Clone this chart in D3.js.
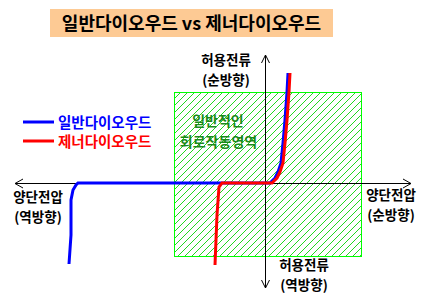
<!DOCTYPE html>
<html>
<head>
<meta charset="utf-8">
<script src="https://cdnjs.cloudflare.com/ajax/libs/d3/7.8.5/d3.min.js"></script>
<style>
  body { margin: 0; background: #fff; }
  svg { display: block; font-family: "Noto Sans CJK KR", "Noto Sans", sans-serif; }
</style>
</head>
<body>
<div class="chart"></div>
<script>
// voltage (x) / current (y) samples
var normalFwdV = [1.0, 1.4, 2.0, 2.6, 3.2, 3.6, 4.0, 4.4, 4.6];
var normalFwdI = [0, 0.4, 1.0, 2.2, 4.0, 8.0, 12.6, 18.2, 22.0];
var normalRevV = [-37.4, -37.8, -38.4, -38.8, -38.8, -39.2];
var normalRevI = [0, -0.4, -1.4, -3.4, -10.4, -16.2];

var zenerFwdV = [1.4, 1.8, 2.4, 3.0, 3.6, 4.0, 4.4, 4.8, 5.0];
var zenerFwdI = [0, 0.4, 1.0, 2.2, 4.0, 8.0, 12.6, 18.2, 22.0];
var zenerRevV = [-8.6, -9.2, -9.6, -10.0];
var zenerRevI = [0, -0.8, -6.4, -16.4];

var axisV = [-50, 29.2];
var axisI = [-21, 25.6];
var regionV = [-18.2, 19.2];
var regionI = [-14.6, 18.2];

var seriesNames = ["일반다이오우드", "제너다이오우드"];
var seriesColors = ["#0000ff", "#ff0000"];
var title = "일반다이오우드 vs 제너다이오우드";

var width = 428, height = 297;

var svg = d3.select("div.chart").append("svg")
    .attr("width", width)
    .attr("height", height);

var x = d3.scaleLinear().domain(axisV).range([15, 411]);
var y = d3.scaleLinear().domain(axisI).range([288, 55]);

// title box
svg.append("rect")
    .attr("x", 50).attr("y", 9)
    .attr("width", 283).attr("height", 28)
    .style("fill", "#fdca94");
svg.append("text")
    .attr("x", 191.5).attr("y", 29.5)
    .attr("text-anchor", "middle")
    .text(title)
    .style("font-size", "18px")
    .style("font-weight", "bold")
    .style("fill", "#000");

// hatched operating region
var defs = svg.append("defs");
defs.append("clipPath").attr("id", "regionClip")
  .append("rect")
    .attr("x", x(regionV[0])).attr("y", y(regionI[1]))
    .attr("width", x(regionV[1]) - x(regionV[0]))
    .attr("height", y(regionI[0]) - y(regionI[1]));

var rx0 = x(regionV[0]), rx1 = x(regionV[1]);
var ry0 = y(regionI[1]), ry1 = y(regionI[0]);
var hatch = d3.range(rx0 - (ry1 - ry0), rx1, 7);
svg.append("g").attr("clip-path", "url(#regionClip)")
  .selectAll("line").data(hatch).enter().append("line")
    .attr("x1", function(d) { return d; })
    .attr("y1", ry1)
    .attr("x2", function(d) { return d + (ry1 - ry0); })
    .attr("y2", ry0)
    .style("stroke", "#22d622")
    .style("stroke-width", 1);

svg.append("rect")
    .attr("x", rx0 + 0.5).attr("y", ry0 + 0.5)
    .attr("width", rx1 - rx0).attr("height", ry1 - ry0)
    .style("fill", "none")
    .style("stroke", "#00ff00")
    .style("stroke-width", 1);

var regionText = svg.append("text")
    .attr("text-anchor", "middle")
    .style("font-size", "14px").style("font-weight", "bold").style("fill", "#1a8a1a");
regionText.append("tspan").attr("x", 218).attr("y", 126).text("일반적인");
regionText.append("tspan").attr("x", 218.5).attr("y", 147).text("회로작동영역");

// axes with open arrow heads
var ax = svg.append("g").style("stroke", "#000").style("stroke-width", 1).style("fill", "none");
var x0 = Math.round(x(0)) + 0.5, y0 = Math.round(y(0)) + 0.5;
ax.append("line").attr("x1", x(axisV[0])).attr("y1", y0).attr("x2", x(axisV[1])).attr("y2", y0);
ax.append("line").attr("x1", x0).attr("y1", y(axisI[1])).attr("x2", x0).attr("y2", y(axisI[0]));
var arrows = [
  [x(axisV[0]) + 8, y0 - 4.5, x(axisV[0]), y0, x(axisV[0]) + 8, y0 + 4.5],
  [x(axisV[1]) - 8, y0 - 4.5, x(axisV[1]), y0, x(axisV[1]) - 8, y0 + 4.5],
  [x0 - 4, y(axisI[1]) + 8, x0, y(axisI[1]), x0 + 4, y(axisI[1]) + 8],
  [x0 - 4, y(axisI[0]) - 8, x0, y(axisI[0]), x0 + 4, y(axisI[0]) - 8]
];
ax.selectAll("path").data(arrows).enter().append("path")
    .attr("d", function(d) { return "M" + d[0] + "," + d[1] + "L" + d[2] + "," + d[3] + "L" + d[4] + "," + d[5]; });

// curves: blue then red on top
var line = d3.line()
    .x(function(d) { return x(d[0]); })
    .y(function(d) { return y(d[1]); });

function curve(revV, revI, fwdV, fwdI) {
  var pts = [];
  for (var i = revV.length - 1; i >= 0; i--) pts.push([revV[i], revI[i]]);
  for (var j = 0; j < fwdV.length; j++) pts.push([fwdV[j], fwdI[j]]);
  return pts;
}
var curves = [
  curve(normalRevV, normalRevI, normalFwdV, normalFwdI),
  curve(zenerRevV, zenerRevI, zenerFwdV, zenerFwdI)
];
svg.selectAll("path.iv").data(curves).enter().append("path")
    .attr("class", "iv")
    .attr("d", line)
    .style("fill", "none")
    .style("stroke", function(d, i) { return seriesColors[i]; })
    .style("stroke-width", 3)
    .style("stroke-linejoin", "miter");

// legend
var legend = svg.selectAll("g.legend").data(seriesNames).enter().append("g")
    .attr("class", "legend")
    .attr("transform", function(d, i) { return "translate(0," + (122 + i * 19) + ")"; });
legend.append("line")
    .attr("x1", 23).attr("x2", 54).attr("y1", 0).attr("y2", 0)
    .style("stroke", function(d, i) { return seriesColors[i]; })
    .style("stroke-width", 3);
legend.append("text")
    .attr("x", 58).attr("y", 5.5)
    .text(function(d) { return d; })
    .style("font-size", "14.5px")
    .style("font-weight", "bold")
    .style("fill", function(d, i) { return seriesColors[i]; });

// axis labels: [line1, line2, x, baseline1, gap]
var labels = [
  ["허용전류", "(순방향)", 226, 65, 19.5],
  ["허용전류", "(역방향)", 304, 270, 19.5],
  ["양단전압", "(순방향)", 391, 200, 20],
  ["양단전압", "(역방향)", 38, 202, 20]
];
var labelTexts = svg.selectAll("text.axlabel").data(labels).enter().append("text")
    .attr("class", "axlabel")
    .attr("text-anchor", "middle")
    .style("font-size", "13.5px")
    .style("font-weight", "bold")
    .style("fill", "#000");
labelTexts.append("tspan")
    .attr("x", function(d) { return d[2]; })
    .attr("y", function(d) { return d[3]; })
    .text(function(d) { return d[0]; });
labelTexts.append("tspan")
    .attr("x", function(d) { return d[2]; })
    .attr("y", function(d) { return d[3] + d[4]; })
    .text(function(d) { return d[1]; });
</script>
</body>
</html>
